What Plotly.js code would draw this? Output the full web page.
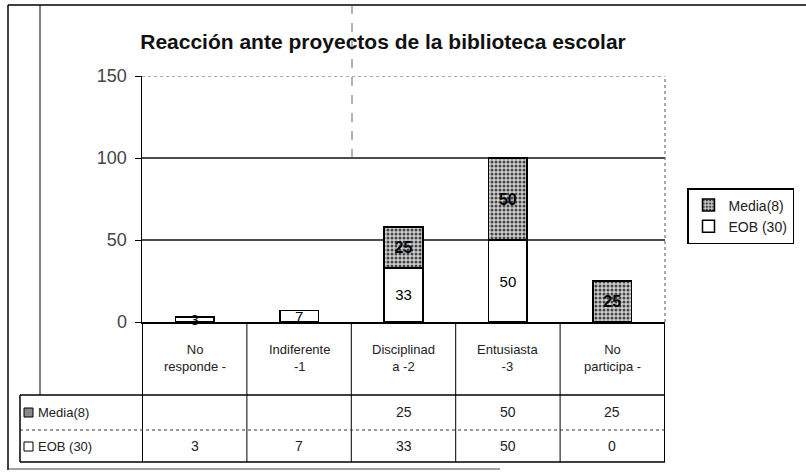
<!DOCTYPE html>
<html>
<head>
<meta charset="utf-8">
<script src="https://cdn.plot.ly/plotly-3.0.1.min.js"></script>
<style>
  body { margin: 0; background: #fff; }
  #plotArea { width: 806px; height: 473px; }
</style>
</head>
<body>
<div id="plotArea"></div>
<script>
// categories and series
var categories = ["No responde -", "Indiferente -1", "Disciplinada -2", "Entusiasta -3", "No participa -"];
var catLabels = ["No<br>responde -", "Indiferente<br>-1", "Disciplinad<br>a -2", "Entusiasta<br>-3", "No<br>participa -"];
var media = [null, null, 25, 50, 25];
var eob = [3, 7, 33, 50, 0];
var seriesNames = ["Media(8)", "EOB (30)"];
var yTicks = [0, 50, 100, 150];

// pixel helpers (806 x 473 page)
var W = 806, H = 473;
function px(x) { return x / W; }
function py(y) { return 1 - y / H; }

var fnt = "Liberation Sans, Arial, sans-serif";

var traceEob = {
    x: categories,
    y: eob,
    name: seriesNames[1],
    type: "bar",
    marker: {color: "#ffffff", line: {color: "#000", width: 1.5}},
    text: eob.map(function(v) { return v ? String(v) : ""; }),
    textposition: "inside",
    insidetextanchor: "middle",
    textangle: 0,
    constraintext: "none",
    textfont: {family: fnt, size: 15, color: "#000"},
    cliponaxis: false
};

var traceMedia = {
    x: categories,
    y: media,
    name: seriesNames[0],
    type: "bar",
    marker: {
        color: "#c8c8c8",
        line: {color: "#000", width: 1.5},
        pattern: {shape: ".", fgcolor: "#444", bgcolor: "#d0d0d0", size: 4, solidity: 0.45}
    },
    text: media.map(function(v) { return v ? "<b>" + v + "</b>" : ""; }),
    textposition: "inside",
    insidetextanchor: "middle",
    textangle: 0,
    constraintext: "none",
    textfont: {family: fnt, size: 16, color: "#000"}
};

var shapes = [];
var annotations = [];

// gridlines
[50, 100].forEach(function(v) {
    shapes.push({type: "line", xref: "paper", yref: "y", x0: px(142), x1: px(665), y0: v, y1: v,
        line: {color: "#111", width: 1.5}, layer: "below"});
});
shapes.push({type: "line", xref: "paper", yref: "y", x0: px(142), x1: px(665), y0: 150, y1: 150,
    line: {color: "#555", width: 1, dash: "dot"}, layer: "below"});
// right edge of plot, dotted
shapes.push({type: "line", xref: "paper", yref: "y", x0: px(665), x1: px(665), y0: 0, y1: 150,
    line: {color: "#555", width: 1, dash: "dot"}});

// outer frame bits
shapes.push({type: "line", xref: "paper", yref: "paper", x0: px(8), x1: px(806), y0: py(5), y1: py(5), line: {color: "#000", width: 1.5}});
shapes.push({type: "line", xref: "paper", yref: "paper", x0: px(8), x1: px(8), y0: py(5), y1: py(470), line: {color: "#000", width: 1.5}});
shapes.push({type: "line", xref: "paper", yref: "paper", x0: px(40), x1: px(40), y0: py(5), y1: py(395), line: {color: "#000", width: 1}});
shapes.push({type: "line", xref: "paper", yref: "paper", x0: px(8), x1: px(500), y0: py(469), y1: py(469), line: {color: "#444", width: 1}});
// scan artefact dashed line
shapes.push({type: "line", xref: "paper", yref: "paper", x0: px(352), x1: px(352), y0: py(5), y1: py(160), line: {color: "#666", width: 1, dash: "dash"}});

// data table grid
var tTop = 322, tHead = 395, tMid = 430, tBot = 462;
for (var i = 0; i <= categories.length; i++) {
    shapes.push({type: "line", xref: "x", yref: "paper", x0: i - 0.5, x1: i - 0.5, y0: py(tTop), y1: py(tBot),
        line: {color: "#000", width: 1}});
}
shapes.push({type: "line", xref: "paper", yref: "paper", x0: px(20), x1: px(665), y0: py(tHead), y1: py(tHead), line: {color: "#000", width: 1.5}});
shapes.push({type: "line", xref: "paper", yref: "paper", x0: px(20), x1: px(665), y0: py(tMid), y1: py(tMid), line: {color: "#333", width: 1, dash: "dot"}});
shapes.push({type: "line", xref: "paper", yref: "paper", x0: px(20), x1: px(665), y0: py(tBot), y1: py(tBot), line: {color: "#000", width: 1.5}});
shapes.push({type: "line", xref: "paper", yref: "paper", x0: px(20), x1: px(20), y0: py(tHead), y1: py(tBot), line: {color: "#000", width: 1.5}});

// row header key squares
shapes.push({type: "rect", xref: "paper", yref: "paper", x0: px(24), x1: px(33), y0: py(417), y1: py(408),
    fillcolor: "#888", line: {color: "#000", width: 1}});
shapes.push({type: "rect", xref: "paper", yref: "paper", x0: px(24), x1: px(33), y0: py(451), y1: py(442),
    fillcolor: "#fff", line: {color: "#000", width: 1}});

annotations.push({xref: "paper", yref: "paper", x: px(36), y: py(412), text: seriesNames[0], showarrow: false,
    xanchor: "left", yanchor: "middle", font: {family: fnt, size: 13, color: "#222"}});
annotations.push({xref: "paper", yref: "paper", x: px(36), y: py(446), text: seriesNames[1], showarrow: false,
    xanchor: "left", yanchor: "middle", font: {family: fnt, size: 13, color: "#222"}});

categories.forEach(function(c, i) {
    annotations.push({xref: "x", yref: "paper", x: c, y: py(358), text: catLabels[i], showarrow: false,
        yanchor: "middle", font: {family: fnt, size: 13, color: "#222"}});
    annotations.push({xref: "x", yref: "paper", x: c, y: py(412), text: media[i] == null ? "" : String(media[i]),
        showarrow: false, yanchor: "middle", font: {family: fnt, size: 14, color: "#222"}});
    annotations.push({xref: "x", yref: "paper", x: c, y: py(446), text: String(eob[i]),
        showarrow: false, yanchor: "middle", font: {family: fnt, size: 14, color: "#222"}});
});

var layout = {
    width: W,
    height: H,
    margin: {l: 0, r: 0, t: 0, b: 0},
    paper_bgcolor: "#fff",
    plot_bgcolor: "rgba(0,0,0,0)",
    barmode: "stack",
    bargap: 0.63,
    showlegend: true,
    title: {
        text: "<b>Reacción ante proyectos de la biblioteca escolar</b>",
        x: px(383), xanchor: "center", y: py(42), yanchor: "middle",
        font: {family: fnt, size: 21, color: "#111"}
    },
    xaxis: {
        domain: [px(142), px(665)],
        showticklabels: false,
        ticks: "",
        showgrid: false,
        showline: true,
        linecolor: "#000",
        linewidth: 2,
        zeroline: false,
        fixedrange: true
    },
    yaxis: {
        domain: [py(322), py(76)],
        range: [0, 150],
        tickvals: yTicks,
        ticks: "outside",
        ticklen: 6,
        tickcolor: "#000",
        showline: true,
        linecolor: "#000",
        linewidth: 1.5,
        showgrid: false,
        zeroline: false,
        tickfont: {family: fnt, size: 18, color: "#444"},
        ticklabelstandoff: 4
    },
    legend: {
        x: px(687), y: py(188), xanchor: "left", yanchor: "top",
        bgcolor: "#fff",
        bordercolor: "#000",
        borderwidth: 1.5,
        traceorder: "reversed",
        itemwidth: 30,
        font: {family: fnt, size: 14, color: "#222"}
    },
    shapes: shapes,
    annotations: annotations
};

Plotly.newPlot("plotArea", [traceEob, traceMedia], layout, {displayModeBar: false, staticPlot: true});
</script>
</body>
</html>
